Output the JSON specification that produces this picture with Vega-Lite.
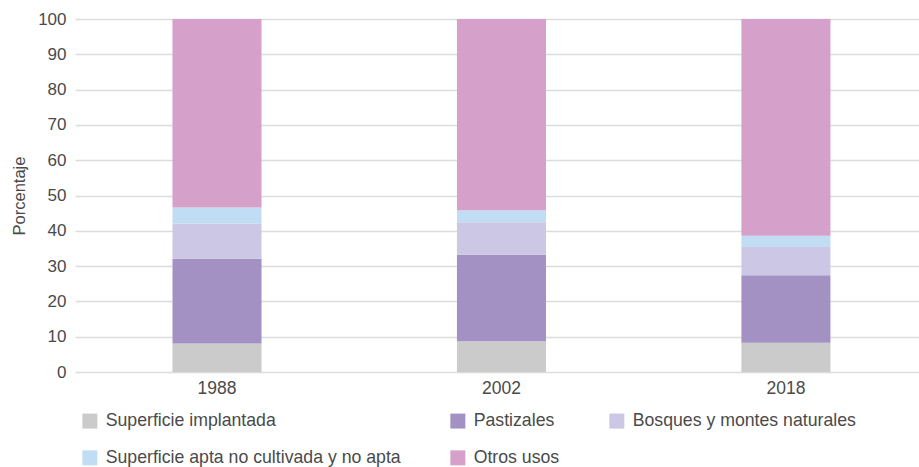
{
  "$schema": "https://vega.github.io/schema/vega-lite/v6.json",
  "width": 844,
  "height": 353,
  "autosize": {"type": "none"},
  "padding": {"left": 75, "top": 19, "right": 0, "bottom": 95},
  "background": "white",
  "config": {
    "font": "Liberation Sans",
    "view": {"stroke": null},
    "axis": {"labelFont": "Liberation Sans", "titleFont": "Liberation Sans"}
  },
  "data": {
    "values": [
      {"anio": "1988", "uso": "Superficie implantada", "orden": 1, "valor": 8.1},
      {"anio": "1988", "uso": "Pastizales", "orden": 2, "valor": 24.0},
      {"anio": "1988", "uso": "Bosques y montes naturales", "orden": 3, "valor": 9.9},
      {"anio": "1988", "uso": "Superficie apta no cultivada y no apta", "orden": 4, "valor": 4.6},
      {"anio": "1988", "uso": "Otros usos", "orden": 5, "valor": 53.4},
      {"anio": "2002", "uso": "Superficie implantada", "orden": 1, "valor": 8.7},
      {"anio": "2002", "uso": "Pastizales", "orden": 2, "valor": 24.5},
      {"anio": "2002", "uso": "Bosques y montes naturales", "orden": 3, "valor": 9.2},
      {"anio": "2002", "uso": "Superficie apta no cultivada y no apta", "orden": 4, "valor": 3.4},
      {"anio": "2002", "uso": "Otros usos", "orden": 5, "valor": 54.2},
      {"anio": "2018", "uso": "Superficie implantada", "orden": 1, "valor": 8.3},
      {"anio": "2018", "uso": "Pastizales", "orden": 2, "valor": 19.1},
      {"anio": "2018", "uso": "Bosques y montes naturales", "orden": 3, "valor": 8.0},
      {"anio": "2018", "uso": "Superficie apta no cultivada y no apta", "orden": 4, "valor": 3.2},
      {"anio": "2018", "uso": "Otros usos", "orden": 5, "valor": 61.4}
    ]
  },
  "mark": {"type": "bar"},
  "encoding": {
    "x": {
      "field": "anio",
      "type": "nominal",
      "sort": null,
      "scale": {"paddingInner": 0.687, "paddingOuter": 0.327, "align": 0.524},
      "axis": {
        "title": null,
        "labelAngle": 0,
        "domain": false,
        "ticks": false,
        "labelPadding": 7,
        "labelFontSize": 17.5,
        "labelColor": "#4a4a4a"
      }
    },
    "y": {
      "field": "valor",
      "type": "quantitative",
      "stack": "zero",
      "scale": {"domain": [0, 100], "nice": false},
      "axis": {
        "title": "Porcentaje",
        "values": [0, 10, 20, 30, 40, 50, 60, 70, 80, 90, 100],
        "domain": false,
        "ticks": false,
        "labelPadding": 9,
        "labelFontSize": 17,
        "labelColor": "#4a4a4a",
        "titleFontSize": 16.5,
        "titleFontWeight": "normal",
        "titleColor": "#4a4a4a",
        "titlePadding": 10,
        "gridColor": "#dcdcdc",
        "gridWidth": 1.3
      }
    },
    "color": {
      "field": "uso",
      "type": "nominal",
      "scale": {
        "domain": ["Superficie implantada", "Pastizales", "Bosques y montes naturales", "Superficie apta no cultivada y no apta", "Otros usos"],
        "range": ["#cccbcb", "#a491c4", "#cbc7e4", "#c0ddf4", "#d5a0c9"]
      },
      "legend": {
        "title": null,
        "orient": "none",
        "legendX": 6,
        "legendY": 393,
        "direction": "horizontal",
        "columns": 3,
        "columnPadding": 48,
        "rowPadding": 18,
        "padding": 0,
        "symbolType": "square",
        "symbolSize": 225,
        "symbolStrokeWidth": 0,
        "labelOffset": 7,
        "labelFontSize": 17.7,
        "labelColor": "#4a4a4a",
        "labelLimit": 400
      }
    },
    "order": {"field": "orden", "type": "quantitative", "sort": "ascending"}
  }
}
